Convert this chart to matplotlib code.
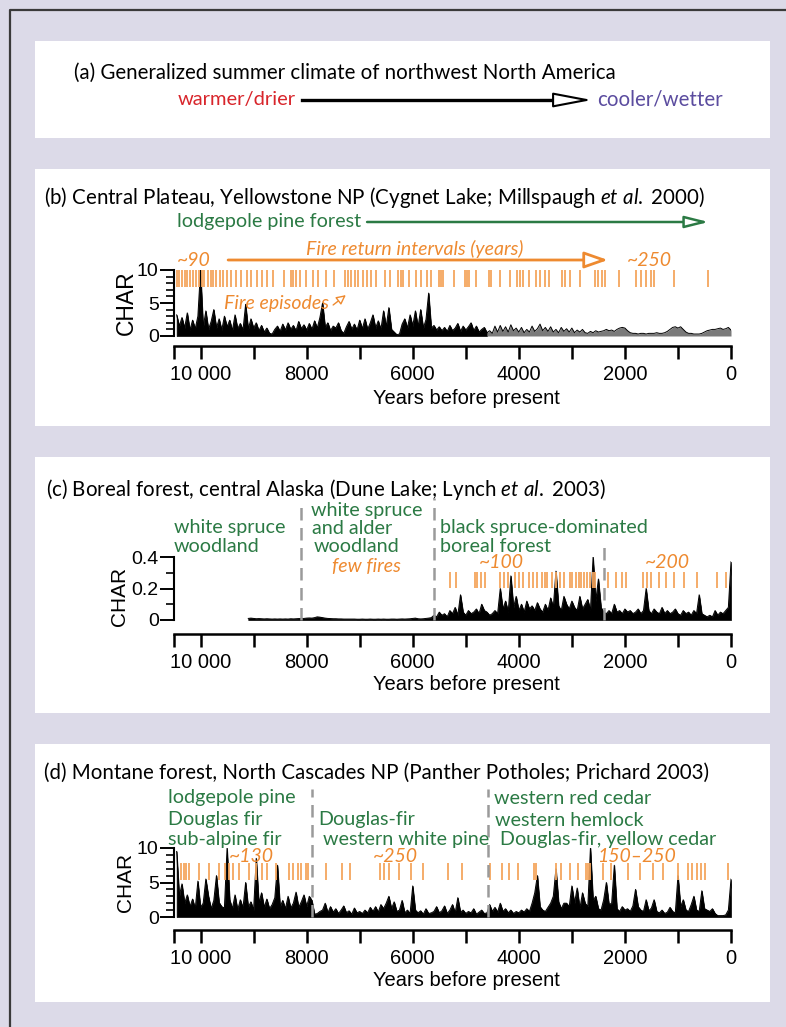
import matplotlib
matplotlib.use("Agg")
import matplotlib.pyplot as plt
import numpy as np
from matplotlib.patches import Rectangle, FancyArrowPatch

W, H, DPI = 786, 1027, 100

LAVENDER = "#dcdae8"
GREEN = "#2b7a44"
ORANGE = "#ee8a30"
ORANGE_TICK = "#f5a65e"
RED = "#d8252b"
PURPLE = "#5b4c9f"
GILL = "Lato"
HELV = "Liberation Sans"

plt.rcParams["font.family"] = HELV
plt.rcParams["mathtext.fontset"] = "custom"
plt.rcParams["mathtext.it"] = "Lato:italic"
plt.rcParams["mathtext.rm"] = "Lato"

# ---- (b) Cygnet Lake charcoal, 50-yr steps from 10450 to 0 yr BP
YEARS_B = np.arange(10450, -1, -50)
CHAR_B = [
    3.2, 1.5, 2.8, 1.2, 3.5, 0.9, 2.4, 1.1, 3.0, 10.0,
    1.3, 3.8, 1.0, 2.2, 4.0, 1.2, 2.6, 0.9, 3.0, 1.4,
    2.4, 0.8, 3.2, 1.1, 1.9, 0.9, 4.8, 1.0, 2.6, 1.2,
    2.0, 0.8, 1.6, 0.6, 1.2, 0.4, 0.3, 1.0, 1.5, 0.7,
    1.8, 0.9, 2.0, 1.0, 1.6, 0.8, 2.2, 1.1, 1.7, 0.9,
    1.9, 1.0, 2.3, 1.2, 2.8, 5.0, 1.3, 2.0, 0.8, 1.5,
    1.2, 2.0, 0.8, 0.4, 1.4, 2.2, 1.0, 1.8, 0.9, 2.4,
    1.1, 2.6, 1.0, 2.0, 3.2, 1.2, 2.3, 1.0, 3.8, 1.4,
    4.3, 1.0, 0.6, 0.2, 0.3, 1.8, 2.6, 1.2, 3.2, 1.5,
    3.8, 1.4, 4.0, 1.2, 2.5, 6.5, 1.2, 1.6, 0.9, 1.4,
    0.8, 1.3, 0.7, 1.6, 0.8, 1.2, 1.9, 0.7, 1.5, 0.9,
    1.4, 2.0, 0.8, 1.5, 0.6, 1.0, 1.3, 0.5, 0.8, 0.4,
    1.5, 0.6, 1.6, 0.7, 1.4, 0.6, 1.7, 0.8, 1.2, 0.6,
    1.3, 0.5, 1.0, 0.6, 1.5, 0.7, 1.1, 1.8, 0.8, 1.3,
    0.7, 1.4, 0.6, 1.0, 0.5, 1.3, 0.7, 1.1, 0.6, 1.2,
    0.5, 0.9, 0.6, 1.0, 0.5, 0.4, 0.7, 0.5, 0.8, 0.6,
    0.7, 0.8, 1.0, 0.8, 0.9, 0.7, 1.0, 1.2, 1.3, 1.2,
    0.8, 0.5, 0.4, 0.4, 0.3, 0.4, 0.4, 0.3, 0.4, 0.4,
    0.4, 0.5, 0.4, 0.4, 0.5, 0.7, 1.0, 1.3, 1.4, 1.2,
    1.4, 1.0, 0.6, 0.4, 0.4, 0.3, 0.3, 0.3, 0.4, 0.6,
    0.8, 0.9, 1.0, 1.0, 1.1, 1.2, 1.0, 1.1, 1.3, 0.9,
]
FIRE_B = [10450, 10400, 10350, 10300, 10250, 10200, 10150, 10090, 10030, 9970,
          9930, 9860, 9810, 9760, 9700, 9630, 9570, 9500, 9420, 9340, 9230,
          9130, 9040, 8940, 8850, 8750, 8640, 8420, 8290, 8250, 8200, 8130,
          8010, 7880, 7790, 7640, 7490, 7280, 7220, 7160, 7090, 7030, 6940,
          6860, 6780, 6690, 6530, 6430, 6280, 6230, 6180, 6070, 5930, 5840,
          5740, 5650, 5500, 5460, 5420, 5230, 5020, 4980, 4930, 4800, 4560,
          4530, 4360, 4170, 4030, 3980, 3920, 3810, 3670, 3600, 3510, 3430,
          3190, 3130, 3040, 2850, 2570, 2500, 2440, 2380, 2110, 1790, 1690,
          1600, 1510, 1450, 1070, 430]

# ---- (c) Dune Lake charcoal, 50-yr steps from 9100 to 0 yr BP
YEARS_C = np.arange(9100, -1, -50)
CHAR_C = [
    0.010, 0.012, 0.010, 0.008, 0.009, 0.008, 0.007, 0.008, 0.007, 0.006,
    0.007, 0.006, 0.007, 0.006, 0.007, 0.006, 0.008, 0.007, 0.008, 0.009,
    0.009, 0.010, 0.012, 0.013, 0.012, 0.015, 0.020, 0.018, 0.015, 0.012,
    0.010, 0.009, 0.008, 0.008, 0.007, 0.007, 0.006, 0.006, 0.006, 0.006,
    0.006, 0.005, 0.005, 0.006, 0.005, 0.005, 0.006, 0.005, 0.005, 0.006,
    0.005, 0.006, 0.005, 0.005, 0.006, 0.006, 0.005, 0.006, 0.007, 0.006,
    0.007, 0.008, 0.010, 0.012, 0.008, 0.007, 0.008, 0.010, 0.012, 0.015,
    0.03, 0.02, 0.05, 0.03, 0.04, 0.02, 0.06, 0.04, 0.08, 0.03,
    0.16, 0.05, 0.03, 0.06, 0.04, 0.05, 0.07, 0.04, 0.10, 0.06,
    0.05, 0.03, 0.04, 0.06, 0.04, 0.20, 0.07, 0.12, 0.05, 0.28,
    0.08, 0.15, 0.06, 0.10, 0.05, 0.12, 0.07, 0.09, 0.06, 0.11,
    0.07, 0.05, 0.10, 0.06, 0.14, 0.08, 0.31, 0.09, 0.06, 0.15,
    0.10, 0.07, 0.12, 0.08, 0.06, 0.15, 0.07, 0.10, 0.13, 0.06,
    0.40, 0.12, 0.26, 0.08, 0.05, 0.04, 0.06, 0.04, 0.10, 0.05,
    0.06, 0.04, 0.07, 0.05, 0.06, 0.04, 0.05, 0.07, 0.04, 0.06,
    0.20, 0.06, 0.04, 0.07, 0.05, 0.04, 0.08, 0.04, 0.06, 0.04,
    0.05, 0.07, 0.04, 0.03, 0.06, 0.04, 0.05, 0.03, 0.06, 0.04,
    0.16, 0.04, 0.03, 0.02, 0.03, 0.02, 0.06, 0.03, 0.05, 0.04,
    0.06, 0.08, 0.37,
]
FIRE_C = [5290, 5180, 4820, 4790, 4710, 4630, 4360, 4280, 4200, 4080, 4000,
          3930, 3810, 3730, 3650, 3570, 3500, 3460, 3380, 3300, 3220, 3140,
          3030, 2990, 2920, 2870, 2830, 2770, 2710, 2660, 2600, 2560, 2320,
          2170, 2050, 1970, 1660, 1580, 1500, 1350, 1230, 1070, 880, 640,
          270, 90]
BREAKS_C = [8100, 5600, 2400]

# ---- (d) Panther Potholes charcoal, 50-yr steps from 10450 to 0 yr BP
YEARS_D = np.arange(10450, -1, -50)
CHAR_D = [
    9.5, 3.0, 4.8, 2.0, 3.2, 1.5, 2.6, 1.2, 5.2, 1.4,
    2.0, 5.5, 3.0, 1.2, 2.4, 6.0, 2.1, 1.5, 1.3, 10.0,
    2.5, 1.2, 3.2, 1.0, 2.5, 1.3, 5.0, 1.4, 2.2, 1.0,
    8.5, 2.0, 3.5, 1.4, 2.6, 1.2, 1.8, 2.8, 7.5, 1.5,
    2.4, 1.2, 3.0, 1.3, 2.0, 3.6, 1.4, 2.2, 3.2, 1.5,
    3.0, 2.4, 0.4, 0.5, 0.8, 1.0, 2.0, 0.6, 1.5, 0.7,
    1.2, 0.5, 1.0, 1.6, 0.6, 0.9, 0.4, 1.3, 0.6, 0.8,
    0.5, 1.0, 0.6, 1.4, 0.8, 1.5, 0.7, 1.8, 1.2, 2.0,
    3.0, 1.2, 2.2, 0.8, 1.0, 2.4, 0.6, 1.0, 0.5, 4.5,
    1.0, 0.6, 0.9, 0.4, 1.2, 0.5, 0.6, 0.8, 1.5, 0.6,
    0.9, 1.6, 0.5, 1.0, 1.8, 0.6, 2.8, 0.7, 1.0, 0.5,
    0.8, 0.6, 1.2, 0.4, 0.7, 1.0, 0.5, 0.6, 1.8, 0.8,
    1.4, 0.7, 2.0, 0.8, 1.2, 0.6, 1.0, 0.5, 0.8, 0.6,
    1.0, 0.7, 1.2, 0.8, 2.0, 3.5, 6.0, 1.5, 1.0, 0.8,
    1.4, 2.0, 3.0, 7.0, 2.2, 1.2, 2.0, 2.0, 1.5, 4.5,
    2.0, 4.2, 1.2, 3.5, 2.0, 1.5, 10.0, 2.4, 3.0, 1.2,
    1.0, 2.5, 5.0, 1.8, 2.0, 7.5, 1.2, 0.8, 1.5, 1.0,
    1.2, 0.8, 1.6, 4.0, 1.5, 1.0, 0.8, 2.5, 0.9, 1.3,
    2.5, 0.8, 0.6, 1.0, 0.5, 0.7, 1.4, 0.8, 0.6, 6.0,
    1.5, 2.5, 1.0, 0.8, 1.8, 3.0, 1.0, 0.8, 3.8, 1.2,
    1.0, 0.8, 1.2, 0.5, 0.2, 0.2, 0.2, 0.3, 1.0, 5.5,
]
FIRE_D = [10370, 10310, 10270, 10210, 10020, 9840, 9660, 9530, 9470, 9390,
          9270, 9090, 8960, 8840, 8750, 8570, 8330, 8250, 8170, 8100, 8020,
          7980, 7630, 7340, 7190, 6610, 6550, 6450, 6250, 6030, 5800, 5330,
          5080, 4550, 4310, 4180, 4020, 3710, 3670, 3290, 3200, 3040, 2880,
          2730, 2690, 2650, 2410, 2260, 1940, 1710, 1470, 1280, 1000, 810,
          730, 650, 570, 490, 60]
BREAKS_D = [7900, 4580]

X_MAJOR = [10000, 8000, 6000, 4000, 2000, 0]
X_LABELS = ["10 000", "8000", "6000", "4000", "2000", "0"]
X_MINOR = [10500, 9000, 7000, 5000, 3000, 1000]


def fx(x):
    return x / W


fig = plt.figure(figsize=(W / DPI, H / DPI), dpi=DPI, facecolor=LAVENDER)

# overlay in pixel coordinates for frames, panel (a) and titles
pix = fig.add_axes([0, 0, 1, 1], zorder=-1)
pix.set_xlim(0, W)
pix.set_ylim(H, 0)
pix.axis("off")
pix.plot([9.5, 9.5, W], [H, 10, 10], color="#3a3a3a", lw=1.6, solid_capstyle="butt")
for top, bot in [(41, 138), (169, 426), (457, 713), (744, 1002)]:
    pix.add_patch(Rectangle((35, top), 735, bot - top, fc="white", ec="none"))


def open_arrow(ax, x0, x1, y, color, lw=1.8, hl=1.2, hw=0.3, ms=12):
    ax.add_patch(FancyArrowPatch(
        (x0, y), (x1, y), arrowstyle=f"-|>,head_length={hl},head_width={hw}",
        mutation_scale=ms, fc="white", ec=color, lw=lw, shrinkA=0, shrinkB=0,
        clip_on=False, zorder=5))


# ---- panel (a)
pix.text(74, 73, "(a) Generalized summer climate of northwest North America",
         family=GILL, size=14.8, va="center", ha="left")
pix.text(178, 100, "warmer/drier", family=GILL, size=14.5, color=RED, va="center")
pix.plot([302, 562], [100, 100], color="black", lw=2.4)
open_arrow(pix, 540, 592, 100, "black", lw=1.5, hl=2.0, hw=0.38, ms=12)
pix.text(597, 100, "cooler/wetter", family=GILL, size=14.8, color=PURPLE, va="center")

# ---- titles
TITLE_SIZE = 14.8
pix.text(44, 197, r"(b) Central Plateau, Yellowstone NP (Cygnet Lake; Millspaugh $\mathit{et\ al.}$ 2000)",
         family=GILL, size=TITLE_SIZE, va="center")
pix.text(46, 489, r"(c) Boreal forest, central Alaska (Dune Lake; Lynch $\mathit{et\ al.}$ 2003)",
         family=GILL, size=TITLE_SIZE, va="center")
pix.text(44, 773, "(d) Montane forest, North Cascades NP (Panther Potholes; Prichard 2003)",
         family=GILL, size=TITLE_SIZE, va="center")


def char_panel(top_px, bot_px, ylim, yticks, yminor, ylabels, offset,
               char_x=126, char_y=0.5, char_size=15):
    ax = fig.add_axes([fx(174), 1 - bot_px / H, (731 - 174) / W, (bot_px - top_px) / H])
    ax.set_facecolor("none")
    ax.set_xlim(10500, 0)
    ax.set_ylim(*ylim)
    for s in ("top", "right"):
        ax.spines[s].set_visible(False)
    ax.spines["left"].set_linewidth(1.5)
    ax.spines["bottom"].set_linewidth(1.8)
    ax.spines["bottom"].set_position(("outward", offset))
    ax.set_xticks(X_MAJOR)
    ax.set_xticklabels(X_LABELS)
    ax.set_xticks(X_MINOR, minor=True)
    ax.tick_params(axis="x", which="both", length=9, width=1.8, direction="out",
                   labelsize=14.5, pad=5)
    ax.set_yticks(yticks)
    ax.set_yticklabels(ylabels)
    ax.set_yticks(yminor, minor=True)
    ax.tick_params(axis="y", which="major", length=10, width=1.4, labelsize=14, pad=1)
    ax.tick_params(axis="y", which="minor", length=6, width=1.2)
    ax.set_xlabel("Years before present", fontsize=14.5)
    ax.xaxis.set_label_coords((466 - 174) / 557, -(offset + 55) / (bot_px - top_px))
    ax.xaxis.label.set_va("center")
    ax.set_ylabel("CHAR", fontsize=char_size)
    ax.yaxis.set_label_coords((char_x - 174) / 557, char_y)
    ax.yaxis.label.set_va("center")
    return ax


def ydata(ax, top_px, bot_px, px):
    lo, hi = ax.get_ylim()
    return lo + (bot_px - px) / (bot_px - top_px) * (hi - lo)


GTXT = dict(family=GILL, size=14.2, color=GREEN, va="center", ha="left")
OTXT = dict(family=GILL, style="italic", size=14, color=ORANGE, va="center")

# ---- panel (b)
TB, BB = 270, 336
axb = char_panel(TB, BB, (0, 10), [0, 5, 10], range(11), ["0", "5", "10"], 7,
                 char_x=126, char_size=16.5)
yb = np.array(CHAR_B)
late = YEARS_B <= 4600
axb.fill_between(YEARS_B, 0, yb, where=~late | (YEARS_B == 4600), color="black", lw=0.5)
axb.fill_between(YEARS_B, 0, yb, where=late, color="#7a7a7a", lw=0)
axb.plot(YEARS_B, yb, color="black", lw=0.7)
axb.vlines(FIRE_B, 7.4, 10, color=ORANGE_TICK, lw=1.3)
axb.text(10450, ydata(axb, TB, BB, 222), "lodgepole pine forest", **GTXT)
open_arrow(axb, 6860, 420, ydata(axb, TB, BB, 222), GREEN, lw=1.8)
axb.text(10450, ydata(axb, TB, BB, 260), "~90", ha="left", **OTXT)
axb.text(5960, ydata(axb, TB, BB, 249), "Fire return intervals (years)", ha="center", **OTXT)
open_arrow(axb, 9480, 2320, ydata(axb, TB, BB, 260), ORANGE, lw=2.0, hw=0.42)
axb.text(1540, ydata(axb, TB, BB, 260), "~250", ha="center", **OTXT)
axb.text(9560, ydata(axb, TB, BB, 303), "Fire episodes", ha="left", **OTXT)
axb.add_patch(FancyArrowPatch((7500, 4.7), (7260, 6.2), arrowstyle="-|>,head_length=0.7,head_width=0.35",
                              mutation_scale=8, fc="white", ec=ORANGE, lw=1.0,
                              shrinkA=0, shrinkB=0, clip_on=False))

# ---- panel (c)
TC, BC = 557, 620
axc = char_panel(TC, BC, (0, 0.4), [0, 0.2, 0.4], [0.1, 0.3], ["0", "0.2", "0.4"], 10,
                 char_x=119, char_y=0.38)
axc.fill_between(YEARS_C, 0, CHAR_C, color="black", lw=0.5)
axc.plot(YEARS_C, CHAR_C, color="black", lw=0.7)
axc.vlines(FIRE_C, 0.203, 0.305, color=ORANGE_TICK, lw=1.3)
for yr, ytop in zip(BREAKS_C, [507, 498, 545]):
    axc.plot([yr, yr], [0, ydata(axc, TC, BC, ytop)], color="#9a9a9a", lw=1.8,
             ls=(0, (5, 3)), clip_on=False)
axc.text(10500, ydata(axc, TC, BC, 528), "white spruce", **GTXT)
axc.text(10500, ydata(axc, TC, BC, 547), "woodland", **GTXT)
axc.text(7920, ydata(axc, TC, BC, 511), "white spruce", **GTXT)
axc.text(7890, ydata(axc, TC, BC, 529), "and alder", **GTXT)
axc.text(7860, ydata(axc, TC, BC, 547), "woodland", **GTXT)
axc.text(5480, ydata(axc, TC, BC, 528), "black spruce-dominated", **GTXT)
axc.text(5480, ydata(axc, TC, BC, 547), "boreal forest", **GTXT)
axc.text(7520, ydata(axc, TC, BC, 567), "few fires", ha="left", **OTXT)
axc.text(4320, ydata(axc, TC, BC, 563), "~100", ha="center", **OTXT)
axc.text(1190, ydata(axc, TC, BC, 563), "~200", ha="center", **OTXT)

# ---- panel (d)
TD, BD = 848, 917
axd = char_panel(TD, BD, (0, 10), [0, 5, 10], range(11), ["0", "5", "10"], 9)
axd.fill_between(YEARS_D, 0, CHAR_D, color="black", lw=0.5)
axd.plot(YEARS_D, CHAR_D, color="black", lw=0.7)
axd.vlines(FIRE_D, 5.4, 7.8, color=ORANGE_TICK, lw=1.3)
for yr in BREAKS_D:
    axd.plot([yr, yr], [0, ydata(axd, TD, BD, 789)], color="#9a9a9a", lw=1.8,
             ls=(0, (5, 3)), clip_on=False)
for txt, yr, ypx in [("lodgepole pine", 10620, 798), ("Douglas fir", 10620, 820),
                     ("sub-alpine fir", 10620, 840), ("Douglas-fir", 7790, 820),
                     (" western white pine", 7790, 840), ("western red cedar", 4470, 798),
                     ("western hemlock", 4450, 820), (" Douglas-fir, yellow cedar", 4450, 840)]:
    axd.text(yr, ydata(axd, TD, BD, ypx), txt, **GTXT)
for txt, yr in [("~130", 9040), ("~250", 6330), ("150–250", 1790)]:
    axd.text(yr, ydata(axd, TD, BD, 857), txt, ha="center", **OTXT)

fig.savefig("out.png", dpi=DPI, facecolor=LAVENDER)
